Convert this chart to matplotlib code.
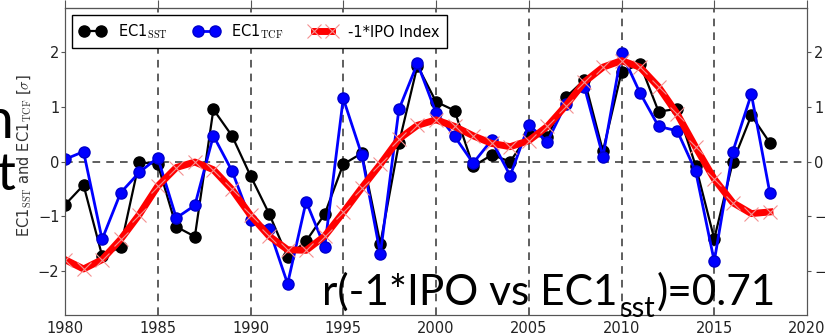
import numpy as np
import matplotlib
matplotlib.use("Agg")
import matplotlib.pyplot as plt

plt.rcParams['mathtext.fontset'] = 'cm'

# Data (1980-2018)
years = np.arange(1980, 2019)
ec1_sst = [-0.79, -0.43, -1.72, -1.56, -0.01, -0.05, -1.19, -1.37, 0.95, 0.47,
           -0.26, -0.95, -1.74, -1.45, -0.96, -0.05, 0.15, -1.50, 0.33, 1.75,
           1.09, 0.93, -0.09, 0.12, 0.00, 0.49, 0.44, 1.17, 1.49, 0.19,
           1.63, 1.78, 0.91, 0.96, -0.08, -1.41, -0.01, 0.84, 0.34]
ec1_tcf = [0.04, 0.18, -1.42, -0.57, -0.20, 0.07, -1.03, -0.80, 0.47, -0.17,
           -1.06, -1.23, -2.23, -0.73, -1.56, 1.15, 0.12, -1.69, 0.95, 1.79,
           0.89, 0.46, -0.03, 0.39, -0.26, 0.67, 0.36, 1.05, 1.36, 0.09,
           1.98, 1.25, 0.64, 0.56, -0.18, -1.82, 0.18, 1.23, -0.58]
ipo_neg = [-1.79, -1.96, -1.79, -1.42, -0.97, -0.45, -0.11, -0.01, -0.15, -0.51,
           -0.98, -1.36, -1.61, -1.62, -1.36, -0.93, -0.48, -0.05, 0.41, 0.66,
           0.76, 0.64, 0.47, 0.33, 0.27, 0.38, 0.64, 1.02, 1.45, 1.72,
           1.84, 1.72, 1.36, 0.87, 0.26, -0.32, -0.75, -0.95, -0.92]

xticks = list(range(1980, 2021, 5))
yticks = [-2, -1, 0, 1, 2]

W, H = 825, 335
fig = plt.figure(figsize=(8.25, 3.35), dpi=100)

# slide text fragments peeking out on the left
fig.text(13 / W, 1 - 138 / H, 'n', fontsize=40, family='Lato', ha='right', va='baseline')
fig.text(16 / W, 1 - 190 / H, 't', fontsize=38, family='Lato', ha='right', va='baseline')

ax = fig.add_axes([65 / W, 20 / H, 742 / W, 307 / H])

for x in xticks[1:-1]:
    ax.axvline(x, color='#333333', lw=1.1, ls=(0, (5, 4)), zorder=1)
ax.axhline(0, color='#333333', lw=1.1, ls=(0, (5, 4)), zorder=1)

ax.plot(years, ec1_sst, '-o', color='black', lw=1.6, ms=8, zorder=3,
        label=r'EC1$_{\mathrm{SST}}$')
ax.plot(years, ec1_tcf, '-o', color='#0000ff', mec='#0000cc', lw=2.0, ms=8, zorder=4,
        label=r'EC1$_{\mathrm{TCF}}$')
ax.plot(years, ipo_neg, '-x', color='red', lw=5, ms=10, mec='#f49090', mew=0.8,
        solid_joinstyle='round', zorder=5, label='-1*IPO Index')

ax.set_xlim(1980, 2020)
ax.set_ylim(-2.8, 2.8)
ax.set_xticks(xticks)
ax.set_yticks(yticks)
for s in ax.spines.values():
    s.set_color('#555555')
ax.tick_params(axis='x', direction='in', length=0, labelsize=10.5, labelcolor='#222222', pad=4)
ax.tick_params(axis='y', direction='out', length=3, pad=1, labelsize=10.5,
               labelcolor='#222222', color='#555555')
ax.set_ylabel(r'EC1$_{\mathrm{SST}}$ and EC1$_{\mathrm{TCF}}$ [$\sigma$]',
              fontsize=10.5, color='#333333')
ax.yaxis.set_label_coords(-32 / 742, 0.52)

top = ax.secondary_xaxis('top')
top.set_xticks(xticks)
top.tick_params(direction='out', length=6, labelsize=0, color='#555555')
top.set_xticklabels([])
top.spines['top'].set_color('#555555')

axr = ax.twinx()
axr.set_ylim(ax.get_ylim())
axr.set_yticks(yticks)
axr.tick_params(direction='out', length=3, pad=2, labelsize=10.5,
                labelcolor='#222222', color='#555555')
for s in axr.spines.values():
    s.set_color('#555555')

leg = ax.legend(loc='upper left', ncol=3, numpoints=2, fontsize=10.5,
                fancybox=False, framealpha=1, edgecolor='black',
                borderaxespad=0.5, columnspacing=1.8, handlelength=1.8,
                handletextpad=0.8, borderpad=0.5)
leg.get_frame().set_linewidth(1.0)
leg.set_zorder(10)

# correlation annotation made of pieces (main text, subscript, rest)
fig.canvas.draw()
r = fig.canvas.get_renderer()
t1 = fig.text(322 / W, 1 - 305 / H, 'r(-1*IPO vs EC1', fontsize=30.5,
              family='Lato', va='baseline', zorder=20)
e1 = t1.get_window_extent(r)
t2 = fig.text((e1.x1 + 2) / W, 1 - 317 / H, 'sst', fontsize=21,
              family='Lato', va='baseline', zorder=20)
e2 = t2.get_window_extent(r)
t3 = fig.text((e2.x1 + 1) / W, 1 - 305 / H, ')=0.71', fontsize=30.5,
              family='Lato', va='baseline', zorder=20)

fig.savefig('out.png', dpi=100)
